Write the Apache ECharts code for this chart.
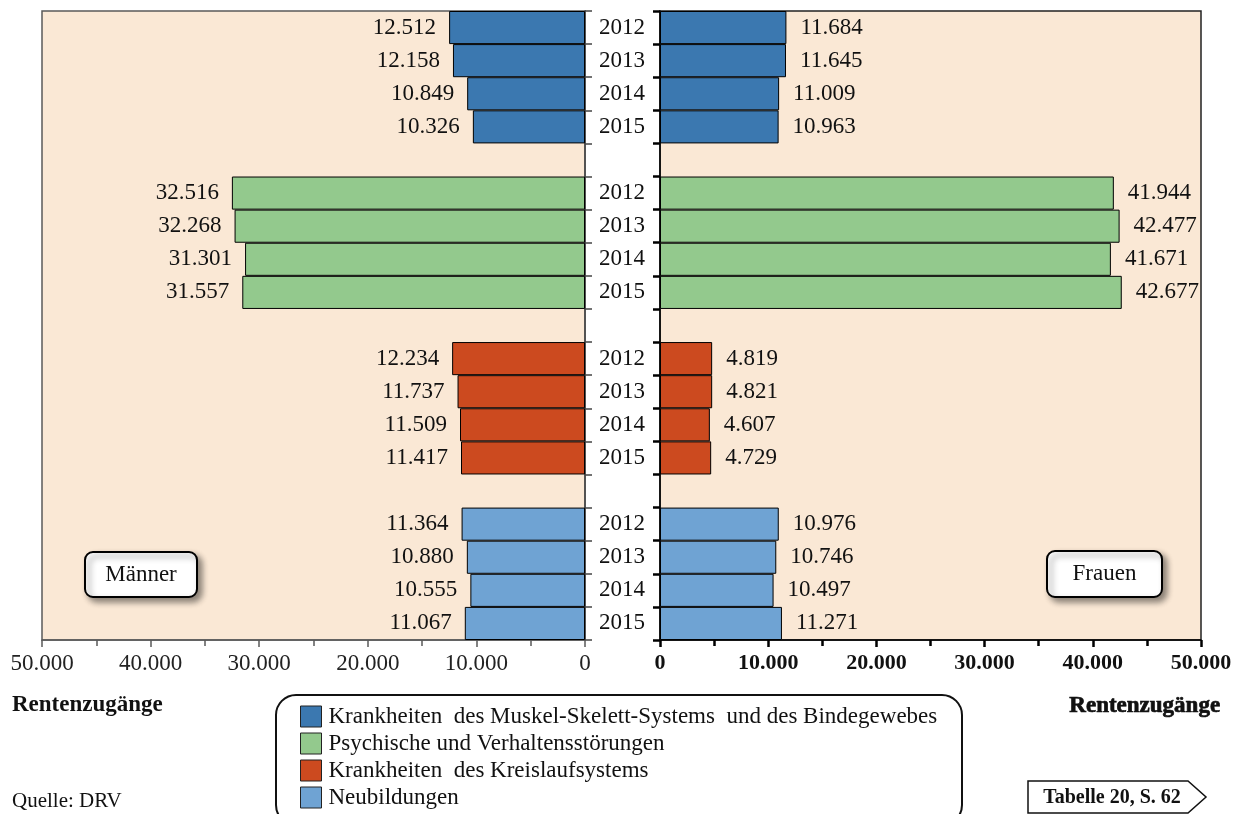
<!DOCTYPE html>
<html><head><meta charset="utf-8">
<script src="https://cdn.jsdelivr.net/npm/echarts@6/dist/echarts.min.js"></script>
<style>html,body{margin:0;padding:0;background:#fff}#c{width:1237px;height:814px}</style>
</head><body><div id="c"></div>
<script>
const groups = ['Krankheiten  des Muskel-Skelett-Systems  und des Bindegewebes', 'Psychische und Verhaltensstörungen', 'Krankheiten  des Kreislaufsystems', 'Neubildungen'];
const years = ['2012', '2013', '2014', '2015'];
const colors = ['#3B78B0', '#93C98D', '#CC4A1F', '#6FA3D3'];
const maennerMuskel = [12512, 12158, 10849, 10326];
const maennerPsych = [32516, 32268, 31301, 31557];
const maennerKreis = [12234, 11737, 11509, 11417];
const maennerNeu = [11364, 10880, 10555, 11067];
const frauenMuskel = [11684, 11645, 11009, 10963];
const frauenPsych = [41944, 42477, 41671, 42677];
const frauenKreis = [4819, 4821, 4607, 4729];
const frauenNeu = [10976, 10746, 10497, 11271];

const maenner = [maennerMuskel, maennerPsych, maennerKreis, maennerNeu];
const frauen = [frauenMuskel, frauenPsych, frauenKreis, frauenNeu];

const cats = [];
groups.forEach((g, gi) => {
  years.forEach(y => cats.push(gi + '|' + y));
  if (gi < groups.length - 1) cats.push('gap' + gi);
});
function slotData(vals, gi) {
  const arr = cats.map(() => '-');
  vals.forEach((v, i) => { arr[gi * 5 + i] = v; });
  return arr;
}
function fmt(v) {
  const s = String(Math.round(v));
  return s.replace(/\B(?=(\d{3})+(?!\d))/g, '.');
}
const serif = '"Liberation Serif", "Times New Roman", serif';
const series = [];
groups.forEach((g, gi) => {
  series.push({
    type: 'bar', name: g, xAxisIndex: 0, yAxisIndex: 0, stack: 'm',
    data: slotData(maenner[gi], gi), barCategoryGap: 0,
    itemStyle: { color: colors[gi], borderColor: '#000', borderWidth: 1 },
    label: { show: true, position: 'left', distance: 13, formatter: p => fmt(p.value),
      fontFamily: serif, fontSize: 23, color: '#111' },
    emphasis: { disabled: true }
  });
  series.push({
    type: 'bar', name: g, xAxisIndex: 1, yAxisIndex: 1, stack: 'f',
    data: slotData(frauen[gi], gi), barCategoryGap: 0,
    itemStyle: { color: colors[gi], borderColor: '#000', borderWidth: 1 },
    label: { show: true, position: 'right', distance: 14, formatter: p => fmt(p.value),
      fontFamily: serif, fontSize: 23, color: '#111' },
    emphasis: { disabled: true }
  });
});

function labelBox(x, y, w, h, text) {
  return {
    type: 'group', children: [
      { type: 'rect', shape: { x: x, y: y, width: w, height: h, r: 8 },
        style: { fill: '#fff', stroke: '#000', lineWidth: 2, shadowBlur: 6, shadowOffsetX: 4, shadowOffsetY: 4, shadowColor: 'rgba(0,0,0,0.45)' } },
      { type: 'text', x: x + w / 2, y: y + h / 2,
        style: { text: text, font: '23px ' + serif, fill: '#111', align: 'center', verticalAlign: 'middle' } }
    ]
  };
}

const legends = groups.map((g, gi) => ({
  orient: 'vertical', left: 300, top: 705 + gi * 27, padding: 0, itemWidth: 21, itemHeight: 21,
  icon: 'rect', data: [g], selectedMode: false,
  itemStyle: { borderColor: '#222', borderWidth: 1 },
  textStyle: { fontFamily: serif, fontSize: 23, lineHeight: 21, color: '#111', padding: [0, 0, 0, 2] }
}));

const chart = echarts.init(document.getElementById('c'), null, { renderer: 'canvas' });
chart.setOption({
  animation: false,
  backgroundColor: '#fff',
  grid: [
    { left: 42, right: 1237 - 585, top: 11, bottom: 814 - 640, show: true, backgroundColor: '#FAE8D5', borderColor: '#595959', borderWidth: 1.5 },
    { left: 660, right: 1237 - 1201, top: 11, bottom: 814 - 640, show: true, backgroundColor: '#FAE8D5', borderColor: '#222', borderWidth: 1.5 }
  ],
  xAxis: [
    { type: 'value', gridIndex: 0, inverse: true, min: 0, max: 50000, interval: 10000,
      axisLine: { show: true, lineStyle: { color: '#595959', width: 1.5 } },
      axisTick: { show: true, length: 7, lineStyle: { color: '#595959', width: 1.5 } },
      minorTick: { show: true, splitNumber: 2, length: 6, lineStyle: { color: '#595959', width: 1.5 } },
      splitLine: { show: false },
      axisLabel: { formatter: v => fmt(v), fontFamily: serif, fontSize: 23, color: '#222', margin: 12 } },
    { type: 'value', gridIndex: 1, min: 0, max: 50000, interval: 10000,
      axisLine: { show: true, lineStyle: { color: '#000', width: 1.5 } },
      axisTick: { show: true, length: 7, lineStyle: { color: '#000', width: 2.5 } },
      minorTick: { show: true, splitNumber: 2, length: 6, lineStyle: { color: '#000', width: 2.5 } },
      splitLine: { show: false },
      axisLabel: { formatter: v => fmt(v), fontFamily: serif, fontSize: 22, fontWeight: 'bold', color: '#111', margin: 12 } }
  ],
  yAxis: [
    { type: 'category', gridIndex: 0, data: cats, inverse: true, position: 'right',
      axisLine: { show: true, lineStyle: { color: '#444', width: 1.5 } },
      axisTick: { show: true, length: 7, lineStyle: { color: '#444', width: 1.5 } },
      axisLabel: { formatter: k => k.indexOf('|') >= 0 ? k.split('|')[1] : '', align: 'center', margin: 37,
        fontFamily: serif, fontSize: 23, color: '#111', interval: 0 } },
    { type: 'category', gridIndex: 1, data: cats, inverse: true, position: 'left',
      axisLine: { show: true, lineStyle: { color: '#000', width: 1.5 } },
      axisTick: { show: true, length: 7, lineStyle: { color: '#000', width: 2.5 } },
      axisLabel: { show: false } }
  ],
  legend: legends,
  graphic: [
    { type: 'rect', shape: { x: 276, y: 695, width: 686, height: 130, r: 20 }, z: -1,
      style: { fill: '#fff', stroke: '#111', lineWidth: 2 } },
    labelBox(85, 552, 112, 45, 'Männer'),
    labelBox(1047, 551, 115, 46, 'Frauen'),
    { type: 'text', left: 12, top: 694, style: { text: 'Rentenzugänge', font: 'bold 23px ' + serif, fill: '#111' } },
    { type: 'text', left: 1069, top: 694, style: { text: 'Rentenzugänge', font: 'bold 23px ' + serif, fill: '#111', stroke: '#111', lineWidth: 0.7 } },
    { type: 'text', left: 12, top: 791, style: { text: 'Quelle: DRV', font: '21px ' + serif, fill: '#111' } },
    { type: 'polygon', shape: { points: [[1028, 781], [1188, 781], [1206, 797], [1188, 813], [1028, 813]] },
      style: { fill: '#fff', stroke: '#111', lineWidth: 1.5 } },
    { type: 'text', x: 1112, y: 798, style: { text: 'Tabelle 20, S. 62', font: 'bold 20px ' + serif, fill: '#111', align: 'center', verticalAlign: 'middle' } }
  ],
  series: series
});
</script></body></html>
